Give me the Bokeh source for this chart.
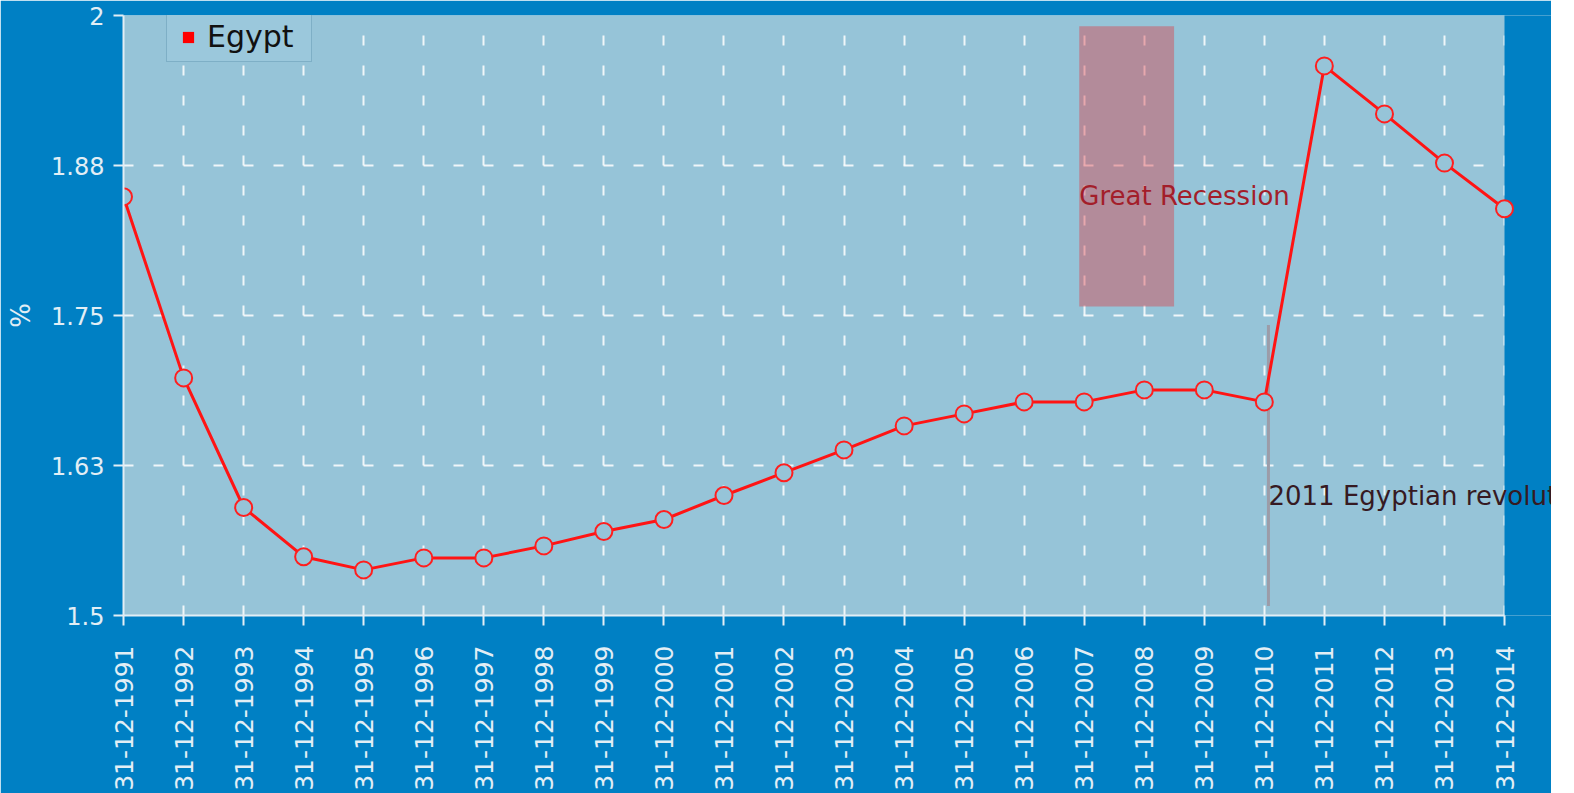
import math
import pandas as pd
from bokeh.plotting import figure
from bokeh.models import (Range1d, FixedTicker, DatetimeTickFormatter, BoxAnnotation,
                          Label, Legend, LegendItem, ColumnDataSource)
from bokeh.embed import file_html
from bokeh.resources import INLINE

# ---------------- data ----------------
dates = ["31-12-1991", "31-12-1992", "31-12-1993", "31-12-1994", "31-12-1995",
         "31-12-1996", "31-12-1997", "31-12-1998", "31-12-1999", "31-12-2000",
         "31-12-2001", "31-12-2002", "31-12-2003", "31-12-2004", "31-12-2005",
         "31-12-2006", "31-12-2007", "31-12-2008", "31-12-2009", "31-12-2010",
         "31-12-2011", "31-12-2012", "31-12-2013", "31-12-2014"]
values = [1.849, 1.698, 1.590, 1.549, 1.538, 1.548, 1.548, 1.558, 1.570, 1.580,
          1.600, 1.619, 1.638, 1.658, 1.668, 1.678, 1.678, 1.688, 1.688, 1.678,
          1.958, 1.918, 1.877, 1.839]
series_name = "Egypt"
y_label = "%"
y_ticks = [1.5, 1.625, 1.75, 1.875, 2.0]
y_tick_labels = ["1.5", "1.63", "1.75", "1.88", "2"]
y_min, y_max = 1.5, 2.0

recession_label = "Great Recession"
recession_start = "2007-12-01"
recession_end = "2009-06-30"
recession_bottom = 1.7575
recession_top = 1.991
recession_text_y = 1.85

revolution_label = "2011 Egyptian revolution"
revolution_date = "2011-01-25"
revolution_y0 = 1.508
revolution_y1 = 1.742
revolution_text_y = 1.600

# ---------------- helpers ----------------
def to_ms(strings, fmt=None):
    idx = pd.to_datetime(strings, format=fmt)
    return [float(v) for v in idx.values.astype("datetime64[ms]").astype("int64")]

x_ms = to_ms(dates, "%d-%m-%Y")
rec_x0, rec_x1 = to_ms([recession_start, recession_end])
rev_x = to_ms([revolution_date])[0]

src = ColumnDataSource(data=dict(x=x_ms, y=values))

FONT = "DejaVu Sans"
BLUE = "#0080c4"
PLOT_BG = "#96c4d8"
LIGHT = "#e2eef5"

W, H = 1551, 793
LEFT, TOP, BOTTOM = 123, 15, 176
PLOT_RIGHT_GAP = 47          # blue strip right of the plotting area
data_w = W - LEFT - PLOT_RIGHT_GAP
span = x_ms[-1] - x_ms[0]
x_end = x_ms[-1] + span * PLOT_RIGHT_GAP / data_w   # frame runs to canvas edge so labels can overflow

p = figure(width=W, height=H, x_axis_type="datetime",
           x_range=Range1d(x_ms[0], x_end), y_range=Range1d(y_min, y_max),
           output_backend="svg", toolbar_location=None,
           min_border_left=LEFT, min_border_right=0, min_border_top=TOP, min_border_bottom=BOTTOM,
           background_fill_color=PLOT_BG, border_fill_color=BLUE, outline_line_color=None)

# grids
for g in (p.xgrid, p.ygrid):
    g.grid_line_color = "white"
    g.grid_line_alpha = 0.85
    g.grid_line_width = 2
    g.grid_line_dash = "10 20"

# blue strip right of the last date (over the grid, under the series)
p.add_layout(BoxAnnotation(left=x_ms[-1], right=x_end + span, bottom=y_min - 1, top=y_max + 1,
                           fill_color=BLUE, fill_alpha=1.0, line_alpha=0, level="underlay"))

# axes
p.xaxis.ticker = FixedTicker(ticks=x_ms)
fmt = "%d-%m-%Y"
p.xaxis.formatter = DatetimeTickFormatter(microseconds=fmt, milliseconds=fmt, seconds=fmt,
                                          minsec=fmt, minutes=fmt, hourmin=fmt, hours=fmt,
                                          days=fmt, months=fmt, years=fmt)
p.xaxis.major_label_orientation = math.pi / 2
p.xaxis.bounds = (x_ms[0], x_ms[-1])
p.yaxis.ticker = FixedTicker(ticks=y_ticks)
p.yaxis.major_label_overrides = {t: l for t, l in zip(y_ticks, y_tick_labels)}
p.yaxis.axis_label = y_label

for ax in (p.xaxis, p.yaxis):
    ax.axis_line_color = LIGHT
    ax.axis_line_width = 2
    ax.major_tick_line_color = LIGHT
    ax.major_tick_line_width = 2
    ax.major_tick_in = 0
    ax.major_tick_out = 10
    ax.minor_tick_line_color = None
    ax.major_label_text_color = LIGHT
    ax.major_label_text_font = FONT
    ax.axis_label_text_color = LIGHT
    ax.axis_label_text_font = FONT
    ax.axis_label_text_font_style = "normal"

p.xaxis.major_label_text_font_size = "25px"
p.xaxis.major_label_standoff = 20
p.yaxis.major_label_text_font_size = "24px"
p.yaxis.major_label_standoff = 9
p.yaxis.axis_label_text_font_size = "26px"
p.yaxis.axis_label_standoff = 12

# revolution marker line (behind the series)
p.segment(x0=[rev_x], y0=[revolution_y0], x1=[rev_x], y1=[revolution_y1],
          line_color="#9c9ca8", line_width=3)

# series
p.line("x", "y", source=src, line_color="#ff1414", line_width=3)
p.scatter("x", "y", source=src, marker="circle", size=17, line_color="#ff1e1e",
          line_width=2, fill_color=PLOT_BG)
legend_r = p.scatter("x", "y", source=src, marker="square", size=0,
                     fill_color="#ff0000", line_alpha=0)

# recession band
p.add_layout(BoxAnnotation(left=rec_x0, right=rec_x1, bottom=recession_bottom, top=recession_top,
                           fill_color="#dc3c46", fill_alpha=0.42, line_alpha=0))
p.add_layout(Label(x=rec_x0, y=recession_text_y, text=recession_label,
                   text_font=FONT, text_font_size="26px", text_color="#a31e2a",
                   text_baseline="middle", text_align="left", level="overlay"))
p.add_layout(Label(x=rev_x, y=revolution_text_y, text=revolution_label,
                   text_font=FONT, text_font_size="26px", text_color="#361a22",
                   text_baseline="middle", text_align="left", level="overlay"))

legend = Legend(items=[LegendItem(label=series_name, renderers=[legend_r])],
                location=(43, 553), orientation="vertical",
                glyph_width=28, glyph_height=28, label_standoff=5, padding=7,
                label_width=97, margin=0,
                label_text_font=FONT, label_text_font_size="30px", label_text_color="#111111",
                background_fill_color="#9bc8dc", background_fill_alpha=1.0,
                border_line_color="#6a9fb8", border_line_alpha=0.6, border_line_width=1)
p.add_layout(legend)

open("out.html", "w").write(file_html(p, INLINE))
